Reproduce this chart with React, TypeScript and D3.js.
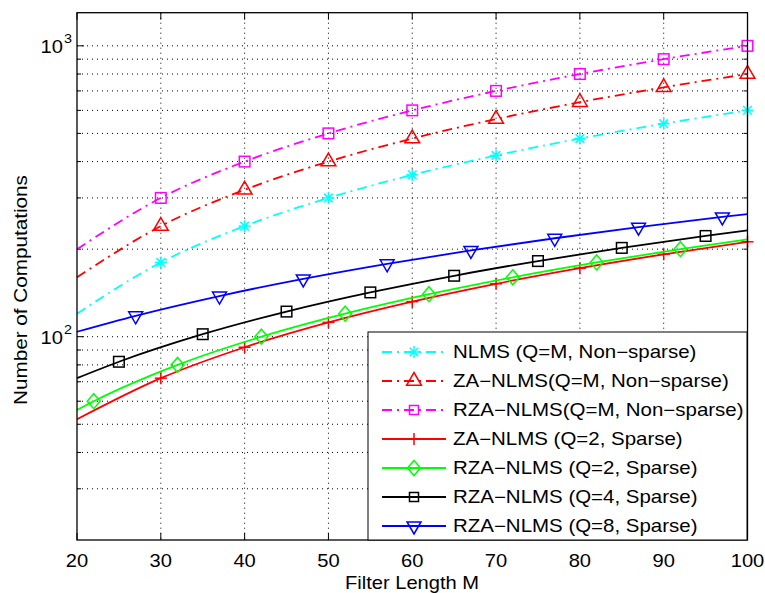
import React from 'react';
import * as d3 from 'd3';

// ---- data ----
const xTickValues = [20, 30, 40, 50, 60, 70, 80, 90, 100];
const yGridValues = [30, 40, 50, 60, 70, 80, 90, 100, 200, 300, 400, 500, 600, 700, 800, 900, 1000];
const yLabelValues = [100, 1000];

const nlmsM = [20, 30, 40, 50, 60, 70, 80, 90, 100];
const nlmsV = [120, 180, 240, 300, 360, 420, 480, 540, 600];
const nlmsMk = [30, 40, 50, 60, 70, 80, 90, 100];

const zaFullM = [20, 30, 40, 50, 60, 70, 80, 90, 100];
const zaFullV = [160, 240, 320, 400, 480, 560, 640, 720, 800];
const zaFullMk = [30, 40, 50, 60, 70, 80, 90, 100];

const rzaFullM = [20, 30, 40, 50, 60, 70, 80, 90, 100];
const rzaFullV = [200, 300, 400, 500, 600, 700, 800, 900, 1000];
const rzaFullMk = [30, 40, 50, 60, 70, 80, 90, 100];

const zaQ2M = [20, 30, 40, 50, 60, 70, 80, 90, 100];
const zaQ2V = [52, 72, 92, 112, 132, 152, 172, 192, 212];
const zaQ2Mk = [30, 40, 50, 60, 70, 80, 90, 100];

const rzaQ2M = [20, 22, 32, 42, 52, 62, 72, 82, 92, 100];
const rzaQ2V = [56, 60, 80, 100, 120, 140, 160, 180, 200, 216];
const rzaQ2Mk = [22, 32, 42, 52, 62, 72, 82, 92];

const rzaQ4M = [20, 25, 35, 45, 55, 65, 75, 85, 95, 100];
const rzaQ4V = [72, 82, 102, 122, 142, 162, 182, 202, 222, 232];
const rzaQ4Mk = [25, 35, 45, 55, 65, 75, 85, 95];

const rzaQ8M = [20, 27, 37, 47, 57, 67, 77, 87, 97, 100];
const rzaQ8V = [104, 118, 138, 158, 178, 198, 218, 238, 258, 264];
const rzaQ8Mk = [27, 37, 47, 57, 67, 77, 87, 97];

const legendLabels = [
  'NLMS (Q=M, Non\u2212sparse)',
  'ZA\u2212NLMS(Q=M, Non\u2212sparse)',
  'RZA\u2212NLMS(Q=M, Non\u2212sparse)',
  'ZA\u2212NLMS (Q=2, Sparse)',
  'RZA\u2212NLMS (Q=2, Sparse)',
  'RZA\u2212NLMS (Q=4, Sparse)',
  'RZA\u2212NLMS (Q=8, Sparse)',
];

type Series = { m: number[]; v: number[]; mk: number[]; color: string; marker: string; dash: string | null; label: string };

const DASHDOT = '10,5,2,5';

const seriesList: Series[] = [
  { m: nlmsM, v: nlmsV, mk: nlmsMk, color: '#00FFFF', marker: 'star', dash: DASHDOT, label: legendLabels[0] },
  { m: zaFullM, v: zaFullV, mk: zaFullMk, color: '#FF0000', marker: 'triUp', dash: DASHDOT, label: legendLabels[1] },
  { m: rzaFullM, v: rzaFullV, mk: rzaFullMk, color: '#FF00FF', marker: 'square', dash: DASHDOT, label: legendLabels[2] },
  { m: zaQ2M, v: zaQ2V, mk: zaQ2Mk, color: '#FF0000', marker: 'plus', dash: null, label: legendLabels[3] },
  { m: rzaQ2M, v: rzaQ2V, mk: rzaQ2Mk, color: '#00FF00', marker: 'diamond', dash: null, label: legendLabels[4] },
  { m: rzaQ4M, v: rzaQ4V, mk: rzaQ4Mk, color: '#000000', marker: 'square', dash: null, label: legendLabels[5] },
  { m: rzaQ8M, v: rzaQ8V, mk: rzaQ8Mk, color: '#0000FF', marker: 'triDown', dash: null, label: legendLabels[6] },
];

const W = 765;
const H = 593;
const L = 77;
const R = 747.5;
const T = 12.7;
const B = 540;
const FONT = '"Liberation Sans", Arial, Helvetica, sans-serif';
const SX = 1.15;

function Txt({ x, y, size, anchor = 'start', rotate = 0, sx = SX, children }: any) {
  return (
    <text
      transform={`translate(${x},${y}) rotate(${rotate}) scale(${sx},1)`}
      fontSize={size}
      textAnchor={anchor}
      fill="#000"
    >
      {children}
    </text>
  );
}

function Marker({ type, x, y, color, s = 1 }: { type: string; x: number; y: number; color: string; s?: number }) {
  const sw = 1.5;
  if (type === 'star') {
    const r = 6 * s;
    const d = r * 0.72;
    return (
      <g stroke={color} strokeWidth={sw} fill="none">
        <line x1={x - r} y1={y} x2={x + r} y2={y} />
        <line x1={x} y1={y - r} x2={x} y2={y + r} />
        <line x1={x - d} y1={y - d} x2={x + d} y2={y + d} />
        <line x1={x - d} y1={y + d} x2={x + d} y2={y - d} />
      </g>
    );
  }
  if (type === 'plus') {
    const r = 6 * s;
    return (
      <g stroke={color} strokeWidth={sw} fill="none">
        <line x1={x - r} y1={y} x2={x + r} y2={y} />
        <line x1={x} y1={y - r} x2={x} y2={y + r} />
      </g>
    );
  }
  if (type === 'square') {
    const h = 5.3 * s;
    return <rect x={x - h} y={y - h} width={2 * h} height={2 * h} stroke={color} strokeWidth={sw} fill="none" />;
  }
  if (type === 'diamond') {
    const hw = 6.5 * s;
    const hh = 7.5 * s;
    return (
      <polygon points={`${x},${y - hh} ${x + hw},${y} ${x},${y + hh} ${x - hw},${y}`} stroke={color} strokeWidth={sw} fill="none" />
    );
  }
  if (type === 'triUp') {
    const r = 8.5 * s;
    return (
      <polygon points={`${x},${y - r} ${x + r * 0.87},${y + r * 0.5} ${x - r * 0.87},${y + r * 0.5}`} stroke={color} strokeWidth={sw} fill="none" />
    );
  }
  if (type === 'triDown') {
    const r = 8 * s;
    return (
      <polygon points={`${x},${y + r} ${x + r * 0.87},${y - r * 0.5} ${x - r * 0.87},${y - r * 0.5}`} stroke={color} strokeWidth={sw} fill="none" />
    );
  }
  return null;
}

export default function App() {
  const x = d3.scaleLinear().domain([20, 100]).range([L, R]);
  const y = d3.scaleLog().domain([20, 1300]).range([B, T]);

  const line = d3
    .line<[number, number]>()
    .x((d) => x(d[0]))
    .y((d) => y(d[1]))
    .curve(d3.curveMonotoneX);

  const legX = 368;
  const legY = 332;
  const legW = 379;
  const legH = 208;
  const rowY0 = 352;
  const rowDy = 29;

  return (
    <svg width={W} height={H} style={{ position: 'absolute', left: 0, top: 0, background: '#fff' }} fontFamily={FONT}>
      <rect x={0} y={0} width={W} height={H} fill="#fff" />
      {/* grid */}
      <g stroke="#000" strokeWidth={1} strokeDasharray="1,4">
        {xTickValues.slice(1, -1).map((t) => (
          <line key={'gx' + t} x1={x(t)} x2={x(t)} y1={T} y2={B} />
        ))}
        {yGridValues.map((t) => (
          <line key={'gy' + t} x1={L} x2={R} y1={y(t)} y2={y(t)} />
        ))}
      </g>
      {/* ticks */}
      <g stroke="#000" strokeWidth={1}>
        {xTickValues.map((t) => (
          <g key={'tx' + t}>
            <line x1={x(t)} x2={x(t)} y1={B} y2={B - 7} />
            <line x1={x(t)} x2={x(t)} y1={T} y2={T + 7} />
          </g>
        ))}
        {yGridValues.map((t) => {
          const len = yLabelValues.includes(t) ? 7 : 4;
          return (
            <g key={'ty' + t}>
              <line x1={L} x2={L + len} y1={y(t)} y2={y(t)} />
              <line x1={R} x2={R - len} y1={y(t)} y2={y(t)} />
            </g>
          );
        })}
      </g>
      {/* series */}
      {seriesList.map((s, i) => {
        const pts: [number, number][] = s.m.map((m, j) => [m, s.v[j]]);
        return (
          <g key={'s' + i}>
            <path d={line(pts) || ''} fill="none" stroke={s.color} strokeWidth={1.8} strokeDasharray={s.dash || undefined} />
            {s.mk.map((m) => {
              const j = s.m.indexOf(m);
              return <Marker key={m} type={s.marker} x={x(m)} y={y(s.v[j])} color={s.color} />;
            })}
          </g>
        );
      })}
      {/* axes box */}
      <rect x={L} y={T} width={R - L} height={B - T} fill="none" stroke="#000" strokeWidth={1.3} />
      {/* x tick labels */}
      {xTickValues.map((t) => (
        <Txt key={'lx' + t} x={x(t)} y={566.5} size={17.5} anchor="middle">
          {t}
        </Txt>
      ))}
      {/* y tick labels */}
      {yLabelValues.map((t) => (
        <g key={'ly' + t}>
          <Txt x={63} y={y(t) + 7.5} size={17.5} anchor="end">
            10
          </Txt>
          <Txt x={64} y={y(t) - 3} size={12.5} anchor="start">
            {Math.round(Math.log10(t))}
          </Txt>
        </g>
      ))}
      <Txt x={412} y={588.5} size={17.5} anchor="middle">
        Filter Length M
      </Txt>
      <Txt x={27} y={290} size={18} anchor="middle" rotate={-90} sx={1.15}>
        Number of Computations
      </Txt>
      {/* legend */}
      <rect x={legX} y={legY} width={legW} height={legH} fill="#fff" stroke="#000" strokeWidth={1} />
      {seriesList.map((s, i) => {
        const yy = rowY0 + i * rowDy;
        return (
          <g key={'lg' + i}>
            <line x1={382} x2={446} y1={yy} y2={yy} stroke={s.color} strokeWidth={1.8} strokeDasharray={s.dash || undefined} />
            <Marker type={s.marker} x={414} y={yy} color={s.color} s={s.marker === 'square' ? 0.85 : 1} />
            <Txt x={453} y={yy + 6.3} size={17.8}>
              {s.label}
            </Txt>
          </g>
        );
      })}
    </svg>
  );
}
